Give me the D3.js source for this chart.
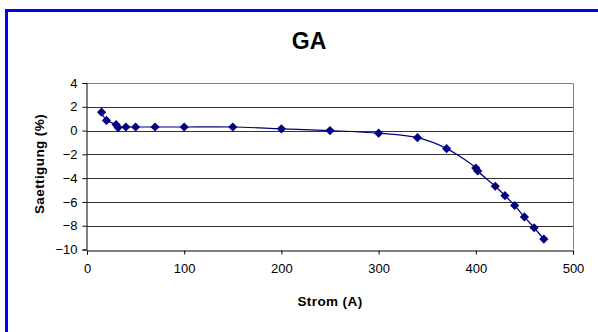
<!DOCTYPE html>
<html>
<head>
<meta charset="utf-8">
<script src="https://cdn.jsdelivr.net/npm/d3@7"></script>
<style>
  html,body{margin:0;padding:0;background:#fff;overflow:hidden}
  svg{display:block;font-family:Arial,"Liberation Sans",sans-serif}
</style>
</head>
<body>
<div id="chart"></div>
<script>
// GA — Saettigung vs Strom (Excel-style XY scatter, smoothed line)

const strom=[15,20,30,32,40,50,70,100,150,200,250,300,340,370,400,402,420,430,440,450,460,470];
const saettigung=[1.55,0.85,0.5,0.25,0.3,0.3,0.3,0.3,0.3,0.15,0.0,-0.22,-0.6,-1.52,-3.15,-3.4,-4.68,-5.47,-6.3,-7.26,-8.17,-9.12];
const xTicks=[0,100,200,300,400,500];
const yTicks=[4,2,0,-2,-4,-6,-8,-10];

const W=598,H=332;
const plot={left:87,right:573,top:83,bottom:249.5};

const svg=d3.select("#chart").append("svg")
  .attr("width",W).attr("height",H);

svg.append("rect").attr("width",W).attr("height",H).attr("fill","#fff");

// blue chart-area frame (runs off the right/bottom edge)
svg.append("rect")
  .attr("x",6.5).attr("y",10.5)
  .attr("width",W+20).attr("height",H+20)
  .attr("fill","none").attr("stroke","#0000ff").attr("stroke-width",3);

const x=d3.scaleLinear().domain([0,500]).range([plot.left,plot.right]);
const y=d3.scaleLinear().domain([-10,4]).range([plot.bottom,plot.top]);

// gridlines
svg.append("g").selectAll("line").data(yTicks.filter(v=>v>-10&&v<4)).enter().append("line")
  .attr("x1",plot.left).attr("x2",plot.right)
  .attr("y1",d=>Math.round(y(d))+0.5).attr("y2",d=>Math.round(y(d))+0.5)
  .attr("stroke","#333").attr("stroke-width",1);

// plot frame top/right (gray)
svg.append("path")
  .attr("d","M"+plot.left+","+(Math.round(plot.top)+0.5)+"H"+(Math.round(plot.right)+0.5)+"V"+plot.bottom)
  .attr("fill","none").attr("stroke","#808080");

// axes
const xAxis=d3.axisBottom(x).tickValues(xTicks).tickSize(4).tickPadding(6);
const yAxis=d3.axisLeft(y).tickValues(yTicks).tickSize(4).tickPadding(5);

const gx=svg.append("g").attr("transform","translate(0,"+(Math.round(plot.bottom)+0.5)+")").call(xAxis);
const gy=svg.append("g").attr("transform","translate("+(plot.left-0.5)+",0)").call(yAxis);

[gx,gy].forEach(g=>{
  g.select(".domain").attr("stroke","#000");
  g.selectAll(".tick line").attr("stroke","#000");
  g.selectAll("text").attr("fill","#000").attr("font-size","13px")
    .attr("font-family","Arial,'Liberation Sans',sans-serif");
});
gx.selectAll(".tick text").attr("dy","0.95em");

// smoothed series line
const line=d3.line()
  .x((d,i)=>x(strom[i]))
  .y(d=>y(d))
  .curve(d3.curveCatmullRom.alpha(0.5));

svg.append("path")
  .datum(saettigung)
  .attr("d",line)
  .attr("fill","none")
  .attr("stroke","#000080")
  .attr("stroke-width",1.2);

// diamond markers
const dm=4.6;
svg.append("g").selectAll("path").data(saettigung).enter().append("path")
  .attr("transform",(d,i)=>"translate("+x(strom[i])+","+y(d)+")")
  .attr("d","M0,"+(-dm)+"L"+dm+",0L0,"+dm+"L"+(-dm)+",0Z")
  .attr("fill","#000080");

// titles
svg.append("text")
  .attr("x",309).attr("y",49)
  .attr("text-anchor","middle")
  .attr("font-size","23px").attr("font-weight","bold")
  .text("GA");

svg.append("text")
  .attr("x",330).attr("y",306)
  .attr("text-anchor","middle")
  .attr("font-size","13.5px").attr("font-weight","bold")
  .attr("letter-spacing","0.4px")
  .text("Strom (A)");

svg.append("text")
  .attr("transform","translate(44,164) rotate(-90)")
  .attr("text-anchor","middle")
  .attr("font-size","13.5px").attr("font-weight","bold")
  .attr("letter-spacing","0.4px")
  .text("Saettigung (%)");
</script>
</body>
</html>
